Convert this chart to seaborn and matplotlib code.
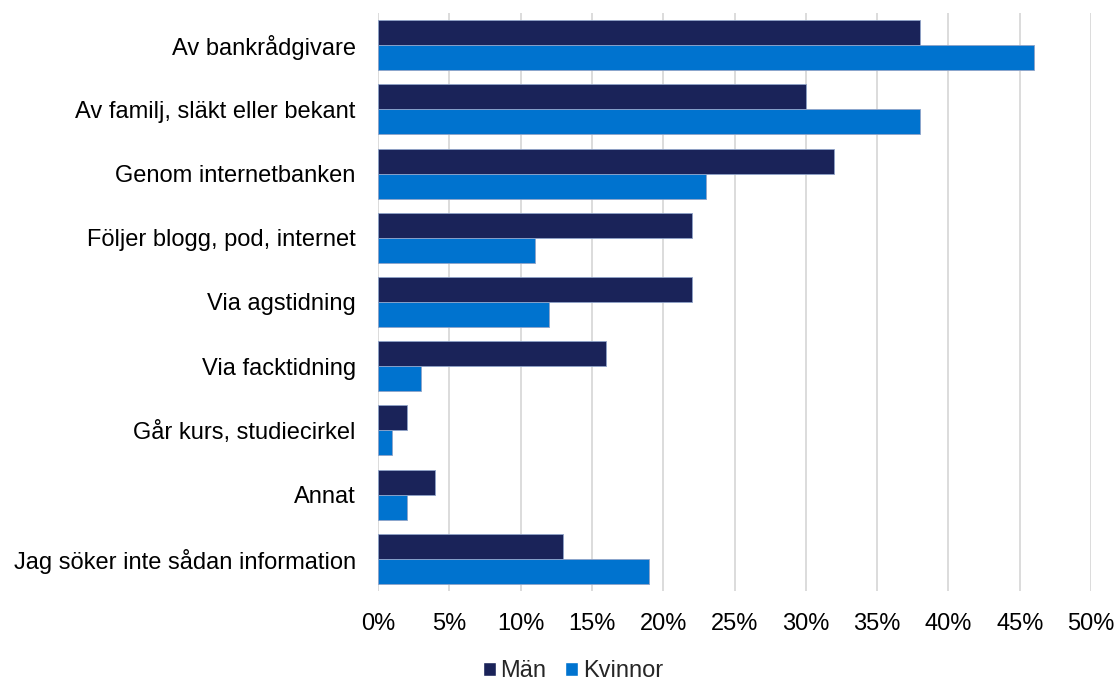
import matplotlib
matplotlib.use("Agg")
import matplotlib.pyplot as plt
import seaborn as sns
import pandas as pd
from matplotlib.ticker import PercentFormatter
from matplotlib.patches import Patch

categories = [
    "Av bankrådgivare",
    "Av familj, släkt eller bekant",
    "Genom internetbanken",
    "Följer blogg, pod, internet",
    "Via agstidning",
    "Via facktidning",
    "Går kurs, studiecirkel",
    "Annat",
    "Jag söker inte sådan information",
]
man = [38, 30, 32, 22, 22, 16, 2, 4, 13]
kvinnor = [46, 38, 23, 11, 12, 3, 1, 2, 19]
series = ["Män", "Kvinnor"]
colors = ["#1A2359", "#0073CF"]
xticks = [0, 5, 10, 15, 20, 25, 30, 35, 40, 45, 50]

df = pd.DataFrame({
    "kategori": categories * 2,
    "andel": man + kvinnor,
    "kön": [series[0]] * len(categories) + [series[1]] * len(categories),
})

sns.set_style("white")
plt.rcParams["font.family"] = ["Liberation Sans", "DejaVu Sans"]

fig = plt.figure(figsize=(11.17, 6.8), dpi=100)
ax = fig.add_axes([378 / 1117, 1 - 591 / 680, (1091 - 378) / 1117, (591 - 13) / 680])

sns.barplot(data=df, y="kategori", x="andel", hue="kön", order=categories,
            hue_order=series, palette=colors, orient="h", width=0.78,
            saturation=1, ax=ax, legend=False, zorder=3,
            edgecolor="#8FA3C8", linewidth=0.6)

ax.set_xlim(0, 50)
ax.set_ylim(len(categories) - 0.5, -0.5)
ax.set_xticks(xticks)
ax.xaxis.set_major_formatter(PercentFormatter(decimals=0))
ax.grid(axis="x", color="#D9D9D9", linewidth=1.3, zorder=0)
ax.grid(axis="y", visible=False)
for s in ax.spines.values():
    s.set_visible(False)
ax.set_xlabel("")
ax.set_ylabel("")
ax.tick_params(axis="both", length=0, labelsize=17, colors="black")
ax.tick_params(axis="x", pad=16)
ax.tick_params(axis="y", pad=16)

handles = [Patch(facecolor=c, label=l) for c, l in zip(colors, series)]
fig.legend(handles=handles, loc="center", bbox_to_anchor=(573 / 1117, 1 - 671 / 680),
           ncol=2, frameon=False, fontsize=17, handlelength=0.55, handleheight=0.55,
           handletextpad=0.2, columnspacing=0.8, borderpad=0)

fig.savefig("out.png", dpi=100)
